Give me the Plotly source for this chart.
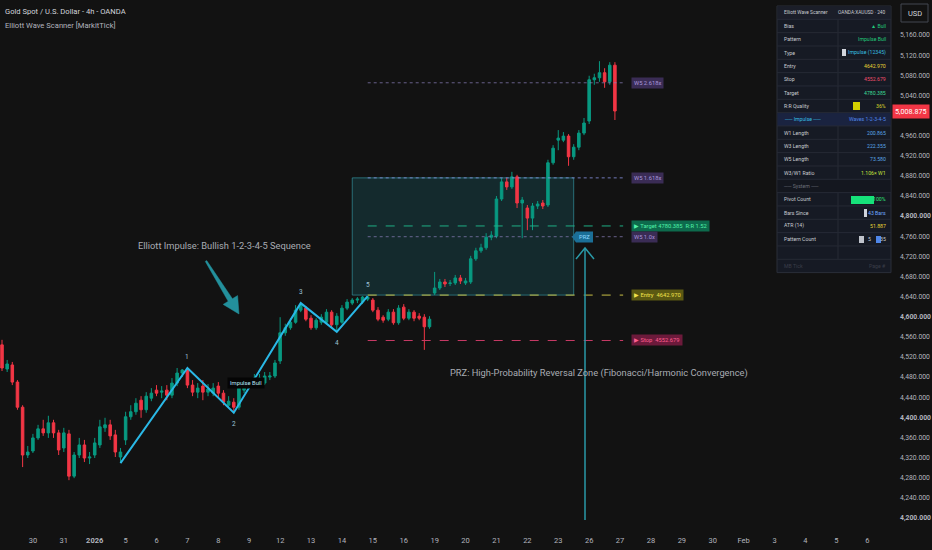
import plotly.graph_objects as go

# ---- 4h candles, x = bar index (6 bars per trading day) ----
opens = [4544, 4496, 4504, 4470, 4420, 4325, 4333, 4359, 4377, 4369,
         4389, 4369, 4339, 4367, 4283, 4325, 4345, 4319, 4325, 4345,
         4379, 4385, 4365, 4321, 4355, 4401, 4411, 4434, 4415, 4438,
         4454, 4450, 4454, 4444, 4468, 4488, 4494, 4464, 4450, 4462,
         4450, 4448, 4462, 4448, 4424, 4430, 4420, 4454, 4462, 4468,
         4474, 4468, 4480, 4482, 4512, 4568, 4578, 4589, 4613, 4617,
         4597, 4578, 4589, 4589, 4609, 4584, 4589, 4617, 4627, 4633,
         4629, 4635, 4633, 4613, 4599, 4595, 4609, 4588, 4619, 4597,
         4609, 4601, 4599, 4580, 4647, 4657, 4669, 4666, 4667, 4677,
         4667, 4669, 4715, 4731, 4737, 4758, 4760, 4834, 4868, 4858,
         4878, 4826, 4816, 4796, 4820, 4826, 4822, 4906, 4951, 4951,
         4959, 4918, 4937, 4965, 4989, 5071, 5075, 5085, 5067, 5100]
highs = [4554, 4514, 4510, 4474, 4424, 4343, 4367, 4385, 4395, 4403,
         4395, 4375, 4379, 4375, 4331, 4359, 4355, 4331, 4359, 4395,
         4399, 4395, 4375, 4339, 4411, 4424, 4438, 4442, 4450, 4458,
         4464, 4462, 4464, 4478, 4498, 4496, 4498, 4474, 4468, 4474,
         4466, 4468, 4470, 4454, 4442, 4438, 4464, 4472, 4478, 4486,
         4486, 4490, 4490, 4514, 4599, 4586, 4597, 4623, 4627, 4621,
         4603, 4597, 4605, 4615, 4613, 4607, 4623, 4635, 4637, 4639,
         4641, 4641, 4637, 4619, 4603, 4615, 4615, 4623, 4625, 4615,
         4613, 4607, 4605, 4601, 4689, 4675, 4675, 4673, 4683, 4683,
         4677, 4721, 4737, 4745, 4766, 4770, 4840, 4876, 4876, 4888,
         4882, 4838, 4822, 4826, 4830, 4832, 4912, 4941, 4971, 4967,
         4963, 4943, 4971, 4995, 5079, 5083, 5108, 5094, 5106, 5106]
lows = [4492, 4490, 4464, 4415, 4301, 4319, 4329, 4355, 4363, 4359,
        4359, 4325, 4331, 4275, 4279, 4319, 4311, 4307, 4319, 4339,
        4371, 4355, 4321, 4309, 4345, 4395, 4405, 4399, 4409, 4432,
        4442, 4438, 4434, 4438, 4462, 4480, 4458, 4442, 4438, 4434,
        4442, 4442, 4440, 4424, 4419, 4409, 4415, 4448, 4456, 4462,
        4468, 4464, 4474, 4478, 4506, 4562, 4574, 4586, 4609, 4591,
        4574, 4574, 4584, 4586, 4578, 4570, 4586, 4613, 4623, 4627,
        4625, 4631, 4609, 4591, 4588, 4591, 4584, 4584, 4593, 4593,
        4591, 4593, 4534, 4576, 4643, 4653, 4659, 4661, 4663, 4665,
        4663, 4665, 4711, 4727, 4733, 4752, 4756, 4830, 4852, 4854,
        4816, 4756, 4772, 4772, 4814, 4814, 4818, 4902, 4931, 4947,
        4900, 4912, 4931, 4961, 4983, 5061, 5067, 5055, 5061, 4991]
closes = [4498, 4506, 4470, 4420, 4325, 4331, 4359, 4377, 4369, 4389,
          4369, 4335, 4369, 4283, 4325, 4345, 4319, 4321, 4349, 4381,
          4385, 4363, 4331, 4331, 4401, 4411, 4428, 4415, 4442, 4448,
          4448, 4452, 4444, 4468, 4488, 4494, 4464, 4450, 4458, 4450,
          4456, 4458, 4448, 4430, 4432, 4420, 4458, 4464, 4470, 4478,
          4478, 4482, 4482, 4508, 4568, 4578, 4589, 4613, 4623, 4595,
          4578, 4593, 4599, 4609, 4584, 4601, 4617, 4629, 4633, 4635,
          4639, 4639, 4613, 4595, 4593, 4609, 4588, 4617, 4597, 4609,
          4597, 4597, 4580, 4595, 4657, 4669, 4665, 4667, 4677, 4671,
          4671, 4715, 4731, 4737, 4758, 4762, 4834, 4868, 4858, 4878,
          4826, 4832, 4796, 4820, 4824, 4820, 4906, 4935, 4955, 4959,
          4918, 4937, 4965, 4985, 5071, 5075, 5085, 5067, 5100, 5008.875]
bars = list(range(len(closes)))

day_ticks = [0, 6, 12, 18, 24, 30, 36, 42, 48, 54, 60, 66, 72, 78, 84,
             90, 96, 102, 108, 114, 120, 126, 132, 138, 144, 150, 156, 162, 168]
day_labels = ['29', '30', '31', '<b>2026</b>', '5', '6', '7', '8', '9', '12', '13', '14',
              '15', '16', '19', '20', '21', '22', '23', '26', '27', '28', '29', '30',
              'Feb', '3', '4', '5', '6']

price_ticks = [5160, 5120, 5080, 5040, 4960, 4920, 4880, 4840, 4800, 4760, 4720,
               4680, 4640, 4600, 4560, 4520, 4480, 4440, 4400, 4360, 4320, 4280,
               4240, 4200]
bold_ticks = [4800, 4600, 4400, 4200]
last_price = 5008.875

# elliott impulse pivots (0-1-2-3-4-5)
wave_bars = [23, 36, 45, 58, 65, 71]
wave_prices = [4309, 4498, 4409, 4627, 4570, 4641]
wave_names = ['', '1', '2', '3', '4', '5']

# projection levels
entry, stop, target = 4642.970, 4552.679, 4780.385
w5_names = ['W5 1.0x', 'W5 1.618x', 'W5 2.618x']
w5_prices = [4759, 4876, 5065]
prz_bars = [68, 111]

BG = '#121212'
GREEN = '#089981'
RED = '#f23645'
FONT = 'Roboto, Liberation Sans, sans-serif'
W_PLOT, H_PLOT = 892, 528


def X(px):
    return px / W_PLOT


def Y(py):
    return 1 - py / H_PLOT


def note(px, py, text, size, color, anchor='center', **kw):
    # free-floating text placed in screen pixels
    return dict(x=X(px), y=Y(py), xref='paper', yref='paper', text=text, showarrow=False,
                xanchor=anchor, yanchor='middle',
                font=dict(family=FONT, size=size, color=color), **kw)


fig = go.Figure()

fig.add_trace(go.Candlestick(
    x=bars, open=opens, high=highs, low=lows, close=closes,
    increasing=dict(line=dict(color=GREEN, width=1), fillcolor=GREEN),
    decreasing=dict(line=dict(color=RED, width=1), fillcolor=RED),
    whiskerwidth=0, showlegend=False, hoverinfo='skip'))

shapes = []
annotations = []

# PRZ box
shapes.append(dict(type='rect', xref='x', yref='y', x0=prz_bars[0], x1=prz_bars[1],
                   y0=entry, y1=w5_prices[1], fillcolor='rgba(38,166,182,0.17)',
                   line=dict(color='rgba(60,175,190,0.55)', width=1), layer='below'))

# level lines + tags
lx0, lx1, tag_x = 71, 120.6, 122.2
levels = [
    (w5_prices[2], 'W5 2.618x', 'rgba(140,130,190,0.7)', 'dot', '#3a2c55', '#a996dc'),
    (w5_prices[1], 'W5 1.618x', 'rgba(140,150,230,0.8)', 'dot', '#3a2c55', '#a996dc'),
    (target, '▶ Target 4780.385  R:R 1.52', '#1fae85', 'dash', '#0d6a4c', '#4ff0a8'),
    (w5_prices[0], 'W5 1.0x', 'rgba(140,130,190,0.7)', 'dot', '#3a2c55', '#a996dc'),
    (entry, '▶ Entry  4642.970', '#c9bf45', 'dash', '#5b5912', '#f2e24c'),
    (stop, '▶ Stop  4552.679', '#c83a66', 'dash', '#6c1a3b', '#ff5e90'),
]
for price, txt, lc, dash, bg, fc in levels:
    shapes.append(dict(type='line', xref='x', yref='y', x0=lx0, x1=lx1, y0=price, y1=price,
                       line=dict(color=lc, width=1, dash=dash)))
    annotations.append(dict(x=tag_x, y=price, xref='x', yref='y', text=txt, showarrow=False,
                            xanchor='left', yanchor='middle', bgcolor=bg, borderpad=2,
                            font=dict(family=FONT, size=5.8, color=fc)))

fig.add_trace(go.Scatter(x=wave_bars, y=wave_prices, mode='lines',
                         line=dict(color='#2ab8e6', width=2), showlegend=False,
                         hoverinfo='skip'))
for k, (b, p, n) in enumerate(zip(wave_bars, wave_prices, wave_names)):
    if not n:
        continue
    up = k % 2 == 1
    annotations.append(dict(x=b, y=p, xref='x', yref='y', text=n, showarrow=False,
                            xanchor='center', yanchor='middle', yshift=11 if up else -11,
                            font=dict(family=FONT, size=6.5, color='#9fc4d6')))

# Impulse Bull tag
annotations.append(note(246, 383, 'Impulse Bull', 5.8, '#b9e6f7', bgcolor='#050505', borderpad=2))

# commentary arrow (Elliott)
pts = [(205.3, 261.4), (206.7, 260.6), (232.4, 298.7), (237.6, 295.6), (239, 314),
       (223.2, 304.4), (228.2, 301.3)]
path = 'M ' + ' L '.join(f'{X(a):.5f},{Y(b):.5f}' for a, b in pts) + ' Z'
shapes.append(dict(type='path', xref='paper', yref='paper', path=path,
                   fillcolor='#23909c', line=dict(color='#23909c', width=0.5)))
annotations.append(note(224, 246, 'Elliott Impulse: Bullish 1-2-3-4-5 Sequence', 9.3, '#a9acb3'))

# PRZ arrow
shapes.append(dict(type='line', xref='paper', yref='paper', x0=X(585), x1=X(585),
                   y0=Y(249), y1=Y(520), line=dict(color='#2a9aa8', width=1.5)))
shapes.append(dict(type='path', xref='paper', yref='paper',
                   path=f'M {X(576)},{Y(259)} L {X(585)},{Y(248)} L {X(594)},{Y(259)}',
                   line=dict(color='#2a9aa8', width=1.5)))
shapes.append(dict(type='path', xref='paper', yref='paper',
                   path=f'M {X(572)},{Y(237)} L {X(576)},{Y(231.5)} L {X(593)},{Y(231.5)} '
                        f'L {X(593)},{Y(242.5)} L {X(576)},{Y(242.5)} Z',
                   fillcolor='#1b6f97', line=dict(width=0)))
annotations.append(note(584.5, 237, 'PRZ', 5.8, '#8fd8ff'))
annotations.append(note(599, 373, 'PRZ: High-Probability Reversal Zone (Fibonacci/Harmonic Convergence)',
                        9.3, '#a9acb3'))

# header text
annotations.append(note(3, 11, 'Gold Spot / U.S. Dollar - 4h - OANDA', 7.6, '#d1d4dc', 'left'))
annotations.append(note(3, 26, 'Elliott Wave Scanner [MarkitTick]', 7.6, '#b2b5be', 'left'))

# ---- info table ----
tbl_left = ['Elliott Wave Scanner', 'Bias', 'Pattern', 'Type', 'Entry', 'Stop', 'Target',
            'R:R Quality', '── Impulse ──', 'W1 Length', 'W3 Length', 'W5 Length',
            'W3/W1 Ratio', '── System ──', 'Pivot Count', 'Bars Since', 'ATR (14)',
            'Pattern Count', '', 'MB Tick']
tbl_right = ['OANDA:XAUUSD · 240', '▲ Bull', 'Impulse Bull', 'Impulse (12345)', '4642.970',
             '4552.679', '4780.385', '36%', 'Waves 1-2-3-4-5', '200.865', '222.355',
             '73.580', '1.106× W1', '', '100%', '43 Bars', '51.887', '35', '', 'Page #']
right_colors = ['#c8cad0', '#22c77a', '#22c77a', '#36bfe0', '#e6d435', '#ef4f6d', '#3ddc97',
                '#d8d82a', '#4f86e8', '#5aa6e6', '#5aa6e6', '#5aa6e6', '#c4e03c', '#888',
                '#2ee87a', '#6fa8ff', '#e6d435', '#c8cad0', '#888', '#3a3d48']
pattern_count_a = '5'
TX0, TX1, TXM, TY0, RH = 777, 891, 838, 6, 13.33
TFS = 5.2
shapes.append(dict(type='rect', xref='paper', yref='paper', x0=X(TX0), x1=X(TX1),
                   y0=Y(TY0), y1=Y(TY0 + RH * len(tbl_left)), fillcolor='#161a24',
                   line=dict(color='#2a2e39', width=1)))
for k, (lt, rt, rc) in enumerate(zip(tbl_left, tbl_right, right_colors)):
    top = TY0 + RH * k
    mid = top + RH / 2
    row_bg = {0: '#1b1e29', 8: '#1a2340', 13: '#14171f'}.get(k)
    if row_bg:
        shapes.append(dict(type='rect', xref='paper', yref='paper', x0=X(TX0 + 0.5),
                           x1=X(TX1 - 0.5), y0=Y(top), y1=Y(top + RH), fillcolor=row_bg,
                           line=dict(width=0)))
    if k > 0:
        shapes.append(dict(type='line', xref='paper', yref='paper', x0=X(TX0), x1=X(TX1),
                           y0=Y(top), y1=Y(top), line=dict(color='#262a35', width=1)))
    if k not in (0, 8, 13, 19):
        shapes.append(dict(type='line', xref='paper', yref='paper', x0=X(TXM), x1=X(TXM),
                           y0=Y(top), y1=Y(top + RH), line=dict(color='#262a35', width=1)))
    if k == 13:
        annotations.append(note(801, mid, lt, TFS, '#6b6e78'))
        continue
    lc = '#36bfe0' if k == 8 else ('#3a3d48' if k == 19 else '#c8cad0')
    fs = 4.8 if k == 0 else TFS
    annotations.append(note(782, mid, lt, fs, lc, 'left'))
    annotations.append(note(888, mid, rt, fs, rc, 'right'))
    if k == 17:
        annotations.append(note(866, mid, pattern_count_a, TFS, rc, 'left'))

# table icons
icon_rects = [(842, 846, 49, 56, '#d0d4dc'), (853, 860, 102, 110, '#d4d000'),
              (851, 874, 196, 204, '#16e27a'), (864, 867, 209, 217, '#d0d4dc'),
              (859, 864, 236, 243, '#c0c4cc'), (876, 881, 236, 243, '#4f86e8')]
for x0, x1, y0, y1, c in icon_rects:
    shapes.append(dict(type='rect', xref='paper', yref='paper', x0=X(x0), x1=X(x1),
                       y0=Y(y0), y1=Y(y1), fillcolor=c, line=dict(width=0)))

# USD box + last price tag
shapes.append(dict(type='rect', xref='paper', yref='paper', x0=X(901), x1=X(928),
                   y0=Y(4), y1=Y(22), line=dict(color='#434651', width=1)))
annotations.append(note(914.5, 13, 'USD', 7.5, '#d1d4dc'))
annotations.append(dict(x=1, y=last_price, xref='paper', yref='y', xanchor='left',
                        yanchor='middle', text=f'{last_price:,.3f}', showarrow=False,
                        bgcolor=RED, borderpad=2,
                        font=dict(family=FONT, size=7.2, color='#ffffff')))

price_text = [f'<b>{v:,.3f}</b>' if v in bold_ticks else f'{v:,.3f}' for v in price_ticks]

fig.update_layout(
    width=932, height=550,
    margin=dict(l=0, r=40, t=0, b=22),
    paper_bgcolor=BG, plot_bgcolor=BG,
    shapes=shapes, annotations=annotations,
    xaxis=dict(range=[-0.39, 172.8], showgrid=False, zeroline=False, showline=False,
               rangeslider=dict(visible=False), tickmode='array', tickvals=day_ticks,
               ticktext=day_labels, ticks='', ticklabelstandoff=6,
               tickfont=dict(family=FONT, size=7.5, color='#b2b5be')),
    yaxis=dict(range=[4179.9, 5229.6], side='right', showgrid=False, zeroline=False,
               showline=False, tickmode='array', tickvals=price_ticks, ticktext=price_text,
               ticks='', ticklabelstandoff=7,
               tickfont=dict(family=FONT, size=6.8, color='#b2b5be')),
    font=dict(family=FONT, color='#b2b5be'),
)

fig.write_html('out.html', config={'displayModeBar': False},
               post_script="document.body.style.margin='0';"
                           "document.body.style.background='#121212';")
